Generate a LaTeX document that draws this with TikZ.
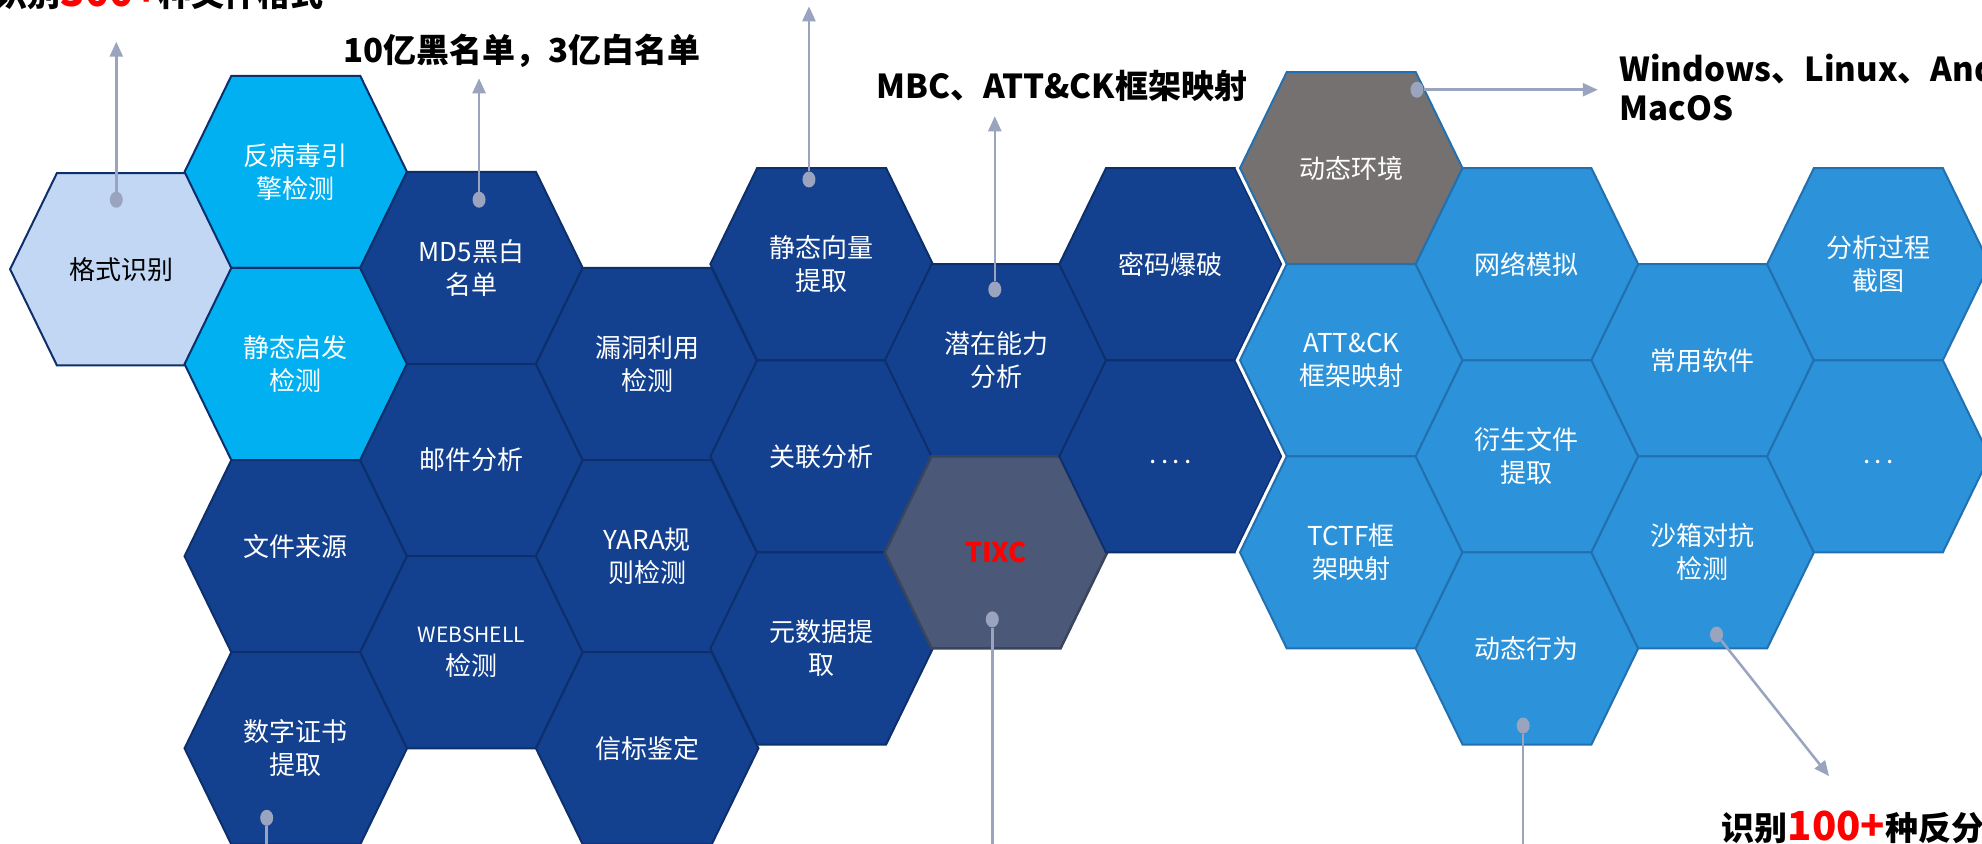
\documentclass[tikz,border=0pt]{standalone}
\usepackage{fontspec}
\setmainfont{Noto Sans CJK SC}
\usetikzlibrary{arrows.meta,shapes.geometric}
\definecolor{navy}{HTML}{13418F}
\definecolor{navyline}{HTML}{0D2F6C}
\definecolor{paleblue}{HTML}{C2D7F4}
\definecolor{cyanb}{HTML}{00B0F0}
\definecolor{slate}{HTML}{4B5877}
\definecolor{slateline}{HTML}{39445D}
\definecolor{warmgray}{HTML}{767171}
\definecolor{sky}{HTML}{2C93DA}
\definecolor{skyline}{HTML}{2270B0}
\definecolor{connc}{HTML}{9AA4BF}
\definecolor{redtxt}{HTML}{FF0000}
\newcommand{\hexpath}[3]{\path[#3] (#1-88,#2) -- (#1-51,#2-76) -- (#1+51,#2-76) -- (#1+88,#2) -- (#1+51,#2+76) -- (#1-51,#2+76) -- cycle;}
\newcommand{\hexcell}[6]{\hexpath{#2}{#3}{#4}\node[#5] (#1) at (#2,#3) {#6};}
\tikzset{
  navyhex/.style={fill=navy, draw=navyline, line width=2pt},
  palehex/.style={fill=paleblue, draw=navyline, line width=2pt},
  cyanhex/.style={fill=cyanb, draw=navyline, line width=2pt},
  slatehex/.style={fill=slate, draw=slateline, line width=2.5pt},
  grayhex/.style={fill=warmgray, draw=skyline, line width=2pt},
  skyhex/.style={fill=sky, draw=skyline, line width=2pt},
  gapline/.style={draw=white, line width=8pt},
  lbl/.style={text=white, align=center, font=\fontsize{26}{33}\selectfont, inner sep=0pt},
  dk/.style={lbl, text=black},
  tixcl/.style={lbl, text=redtxt, font=\bfseries\fontsize{27}{33}\selectfont},
  title/.style={inner sep=0pt, font=\bfseries\fontsize{33}{39}\selectfont},
  conn/.style={draw=connc, line width=2.5pt, -{Triangle[width=13pt,length=15pt]}},
  connplain/.style={draw=connc, line width=2.5pt},
  dotn/.style={ellipse, fill=connc, minimum width=13pt, minimum height=16pt, inner sep=0pt}
}
\begin{document}
\begin{tikzpicture}[x=1.264pt, y=-1.264pt]
\useasboundingbox (0,0) rectangle (1568,667);
\fill[white] (0,0) rectangle (1568,667);
% static analysis group
\hexcell{fmt}{96}{213}{palehex}{dk}{格式识别}
\hexcell{av}{234}{136}{cyanhex}{lbl}{反病毒引\\擎检测}
\hexcell{heur}{234}{288}{cyanhex}{lbl}{静态启发\\检测}
\hexcell{src}{234}{440}{navyhex}{lbl,yshift=10pt}{文件来源}
\hexcell{cert}{234}{592}{navyhex}{lbl}{数字证书\\提取}
\hexcell{md5}{373}{212}{navyhex}{lbl}{MD5黑白\\名单}
\hexcell{mail}{373}{364}{navyhex}{lbl}{邮件分析}
\hexcell{web}{373}{516}{navyhex}{lbl}{{\fontsize{21}{26}\selectfont WEBSHELL}\\检测}
\hexcell{vuln}{512}{288}{navyhex}{lbl}{漏洞利用\\检测}
\hexcell{yara}{512}{440}{navyhex}{lbl}{YARA规\\则检测}
\hexcell{beacon}{512}{592}{navyhex}{lbl}{信标鉴定}
\hexcell{vec}{650}{209}{navyhex}{lbl}{静态向量\\提取}
\hexcell{corr}{650}{361}{navyhex}{lbl}{关联分析}
\hexcell{meta}{650}{513}{navyhex}{lbl}{元数据提\\取}
\hexcell{cap}{788}{285}{navyhex}{lbl}{潜在能力\\分析}
\hexcell{tixc}{788}{437}{slatehex}{tixcl}{TIXC}
\hexcell{pwd}{926}{209}{navyhex}{lbl}{密码爆破}
\hexcell{more1}{926}{361}{navyhex}{lbl,yshift=-6pt}{.\,.\,.\,.}
% dynamic analysis group
\hexpath{1069}{133}{gapline}
\hexpath{1069}{285}{gapline}
\hexpath{1069}{437}{gapline}
\hexcell{env}{1069}{133}{grayhex}{lbl}{动态环境}
\hexcell{attck}{1069}{285}{skyhex}{lbl}{ATT\&CK\\框架映射}
\hexcell{tctf}{1069}{437}{skyhex}{lbl}{TCTF框\\架映射}
\hexcell{net}{1208}{209}{skyhex}{lbl}{网络模拟}
\hexcell{deriv}{1208}{361}{skyhex}{lbl}{衍生文件\\提取}
\hexcell{dyn}{1208}{513}{skyhex}{lbl}{动态行为}
\hexcell{soft}{1347}{285}{skyhex}{lbl}{常用软件}
\hexcell{sandbox}{1347}{437}{skyhex}{lbl}{沙箱对抗\\检测}
\hexcell{shot}{1486}{209}{skyhex}{lbl}{分析过程\\截图}
\hexcell{more2}{1486}{361}{skyhex}{lbl,yshift=-6pt}{.\,.\,.}
% captions
\node[title, anchor=base east] (fmtcap) at (256,5) {识别{\color{redtxt}\fontsize{40}{40}\selectfont 300+}种文件格式};
\node[title] (md5cap) at (413,40) {10亿黑名单，3亿白名单};
\node[title] (mbccap) at (840,68) {MBC、ATT\&CK框架映射};
\node[title, anchor=west, align=left] (oscap) at (1281,69) {Windows、Linux、Android、\\MacOS};
\node[title, anchor=base west] (sbcap) at (1362,665) {识别{\color{redtxt}\fontsize{40}{40}\selectfont 100+}种反分析};
% connectors
\node[dotn] (d1) at (92,158) {};
\node[dotn] (d2) at (379,158) {};
\node[dotn] (d3) at (640,142) {};
\node[dotn] (d4) at (787,229) {};
\node[dotn] (d5) at (1121,71) {};
\node[dotn] (d6) at (785,490) {};
\node[dotn] (d7) at (211,647) {};
\node[dotn] (d8) at (1205,574) {};
\node[dotn] (d9) at (1358,502) {};
\coordinate (t1) at (92,33);
\coordinate (t2) at (379,62);
\coordinate (t3) at (640,5);
\coordinate (t4) at (787,92);
\coordinate (t5) at (1264,71);
\coordinate (t6) at (785,690);
\coordinate (t7) at (211,690);
\coordinate (t8) at (1205,690);
\coordinate (t9) at (1447,614);
\draw[conn] (d1) -- (t1);
\draw[conn] (d2) -- (t2);
\draw[conn] (d3) -- (t3);
\draw[conn] (d4) -- (t4);
\draw[conn] (d5) -- (t5);
\draw[connplain] (d6) -- (t6);
\draw[connplain] (d7) -- (t7);
\draw[connplain] (d8) -- (t8);
\draw[conn] (d9) -- (t9);
\end{tikzpicture}
\end{document}
